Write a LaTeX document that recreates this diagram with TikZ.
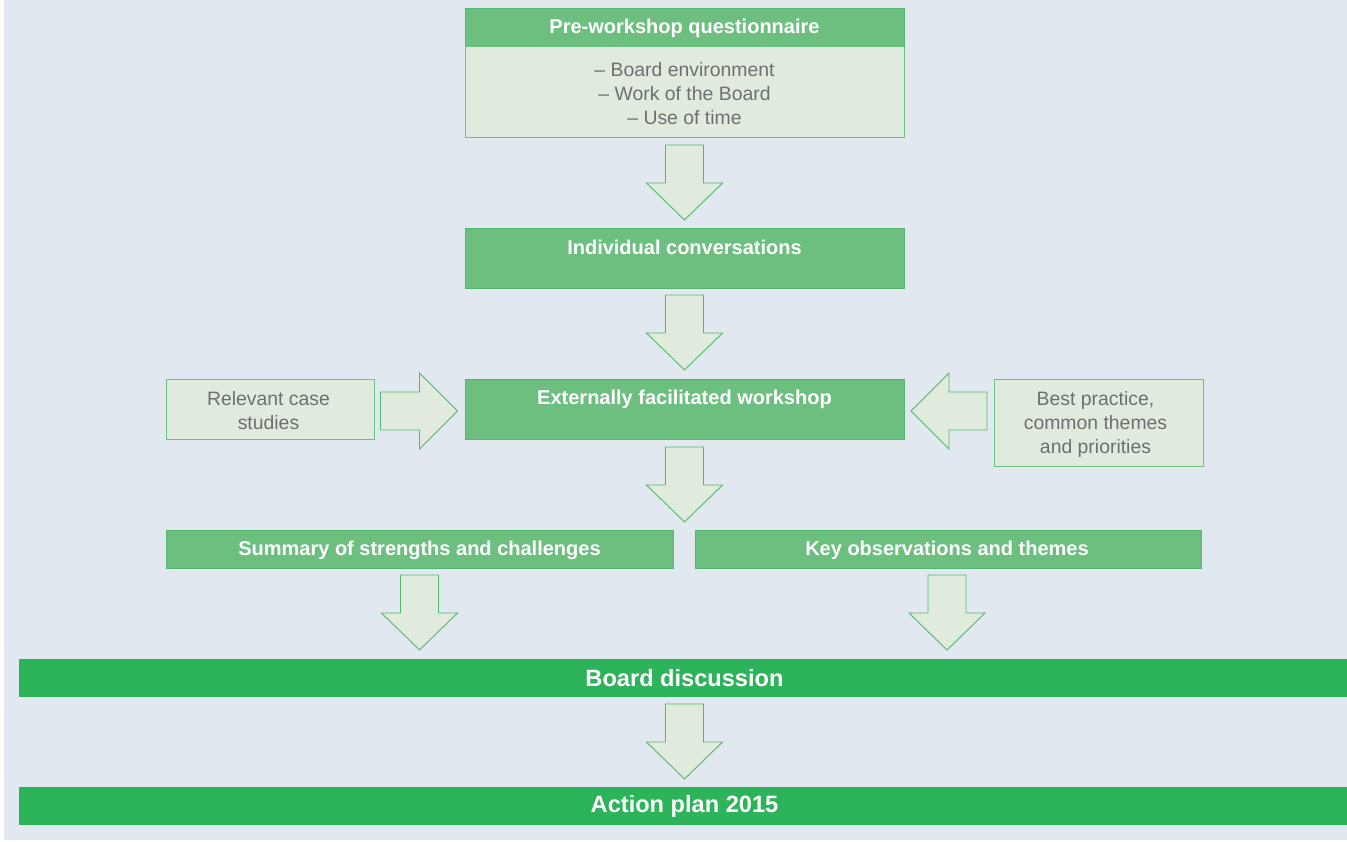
\documentclass[tikz,border=0pt]{standalone}
\usepackage{fontspec}
\setmainfont{Liberation Sans}
\usetikzlibrary{calc}
\definecolor{bgc}{HTML}{E1E8F0}
\definecolor{midg}{HTML}{6DBF80}
\definecolor{lightg}{HTML}{E1EBDD}
\definecolor{edgeg}{HTML}{52B86B}
\definecolor{darkg}{HTML}{2DB35A}
\definecolor{greyt}{HTML}{6D6F71}
\tikzset{
  hdrbox/.style={draw=edgeg, line width=1pt, fill=midg, inner sep=0pt, outer sep=0pt},
  lightbox/.style={draw=edgeg!85!white, line width=1pt, fill=lightg, inner sep=0pt, outer sep=0pt},
  gtext/.style={text=greyt, font=\fontsize{19.4}{24}\selectfont, align=center, inner sep=0pt},
  htext/.style={text=white, font=\fontsize{20}{24}\selectfont\bfseries, inner sep=0pt},
  bar/.style={fill=darkg, inner sep=0pt, outer sep=0pt},
  btext/.style={text=white, font=\fontsize{23.6}{28}\selectfont\bfseries, inner sep=0pt},
  blk/.style={draw=edgeg, line width=0.9pt, fill=lightg, line join=miter},
  pics/darr/.style={code={\draw[blk] (-19,0)--(19,0)--(19,38)--(38,38)--(0,75)--(-38,38)--(-19,38)--cycle;}},
  pics/rarr/.style={code={\draw[blk] (0,-19)--(39,-19)--(39,-38)--(77,0)--(39,38)--(39,19)--(0,19)--cycle;}},
  pics/larr/.style={code={\draw[blk] (0,0)--(38,-38)--(38,-19)--(76,-19)--(76,19)--(38,19)--(38,38)--cycle;}},
}
\begin{document}
\begin{tikzpicture}[x=1pt,y=-1pt]
\useasboundingbox (0,0) rectangle (1347,841);
\fill[white] (0,0) rectangle (1347,841);
\fill[bgc] (4,0) rectangle (1347,840);

% Pre-workshop questionnaire
\node[hdrbox, minimum width=439pt, minimum height=38pt] (pre) at (684.5,27) {};
\node[htext] (pret) at ($(pre.center)+(0,1.5)$) {Pre-workshop questionnaire};
\node[lightbox, minimum width=439pt, minimum height=91pt, anchor=north] (preb) at (pre.south) {};
\node[gtext] (prebt) at ($(preb.center)+(0,2)$) {– Board environment\\– Work of the Board\\– Use of time};

% Individual conversations
\node[hdrbox, minimum width=439pt, minimum height=60pt] (ind) at (684.5,258) {};
\node[htext] (indt) at (684.5,247.5) {Individual conversations};

% Externally facilitated workshop
\node[hdrbox, minimum width=439pt, minimum height=60pt] (work) at (684.5,409) {};
\node[htext] (workt) at (684.5,399.5) {Externally facilitated workshop};

% Side boxes
\node[lightbox, minimum width=208pt, minimum height=60pt] (case) at (270.5,409) {};
\node[gtext] (caset) at ($(case.center)+(-2,2)$) {Relevant case\\studies};
\node[lightbox, minimum width=209pt, minimum height=87pt] (best) at (1098.5,422.5) {};
\node[gtext] (bestt) at ($(best.center)+(-3,1.5)$) {Best practice,\\common themes\\and priorities};

% Summary / key observations
\node[hdrbox, minimum width=507pt, minimum height=38pt] (sum) at (419.5,549) {};
\node[htext] (sumt) at ($(sum.center)+(0,1.5)$) {Summary of strengths and challenges};
\node[hdrbox, minimum width=506pt, minimum height=38pt] (key) at (948,549) {};
\node[htext] (keyt) at ($(key.center)+(-1,1.5)$) {Key observations and themes};

% Bars
\node[bar, minimum width=1328pt, minimum height=38pt] (board) at (683,678) {};
\node[btext] (boardt) at ($(board.center)+(1.5,0)$) {Board discussion};
\node[bar, minimum width=1328pt, minimum height=38pt] (act) at (683,806) {};
\node[btext] (actt) at ($(act.center)+(1.5,0)$) {Action plan 2015};

% Block arrows
\pic at ($(preb.south)+(0,8)$) {darr};
\pic at ($(ind.south)+(0,7)$) {darr};
\pic at ($(work.south)+(0,8)$) {darr};
\pic at ($(sum.south)+(0,7)$) {darr};
\pic at ($(key.south)+(-1,7)$) {darr};
\pic at ($(board.south)+(1.5,7)$) {darr};
\pic at ($(case.east)+(6,2)$) {rarr};
\pic at ($(work.east)+(7,2)$) {larr};
\end{tikzpicture}
\end{document}
